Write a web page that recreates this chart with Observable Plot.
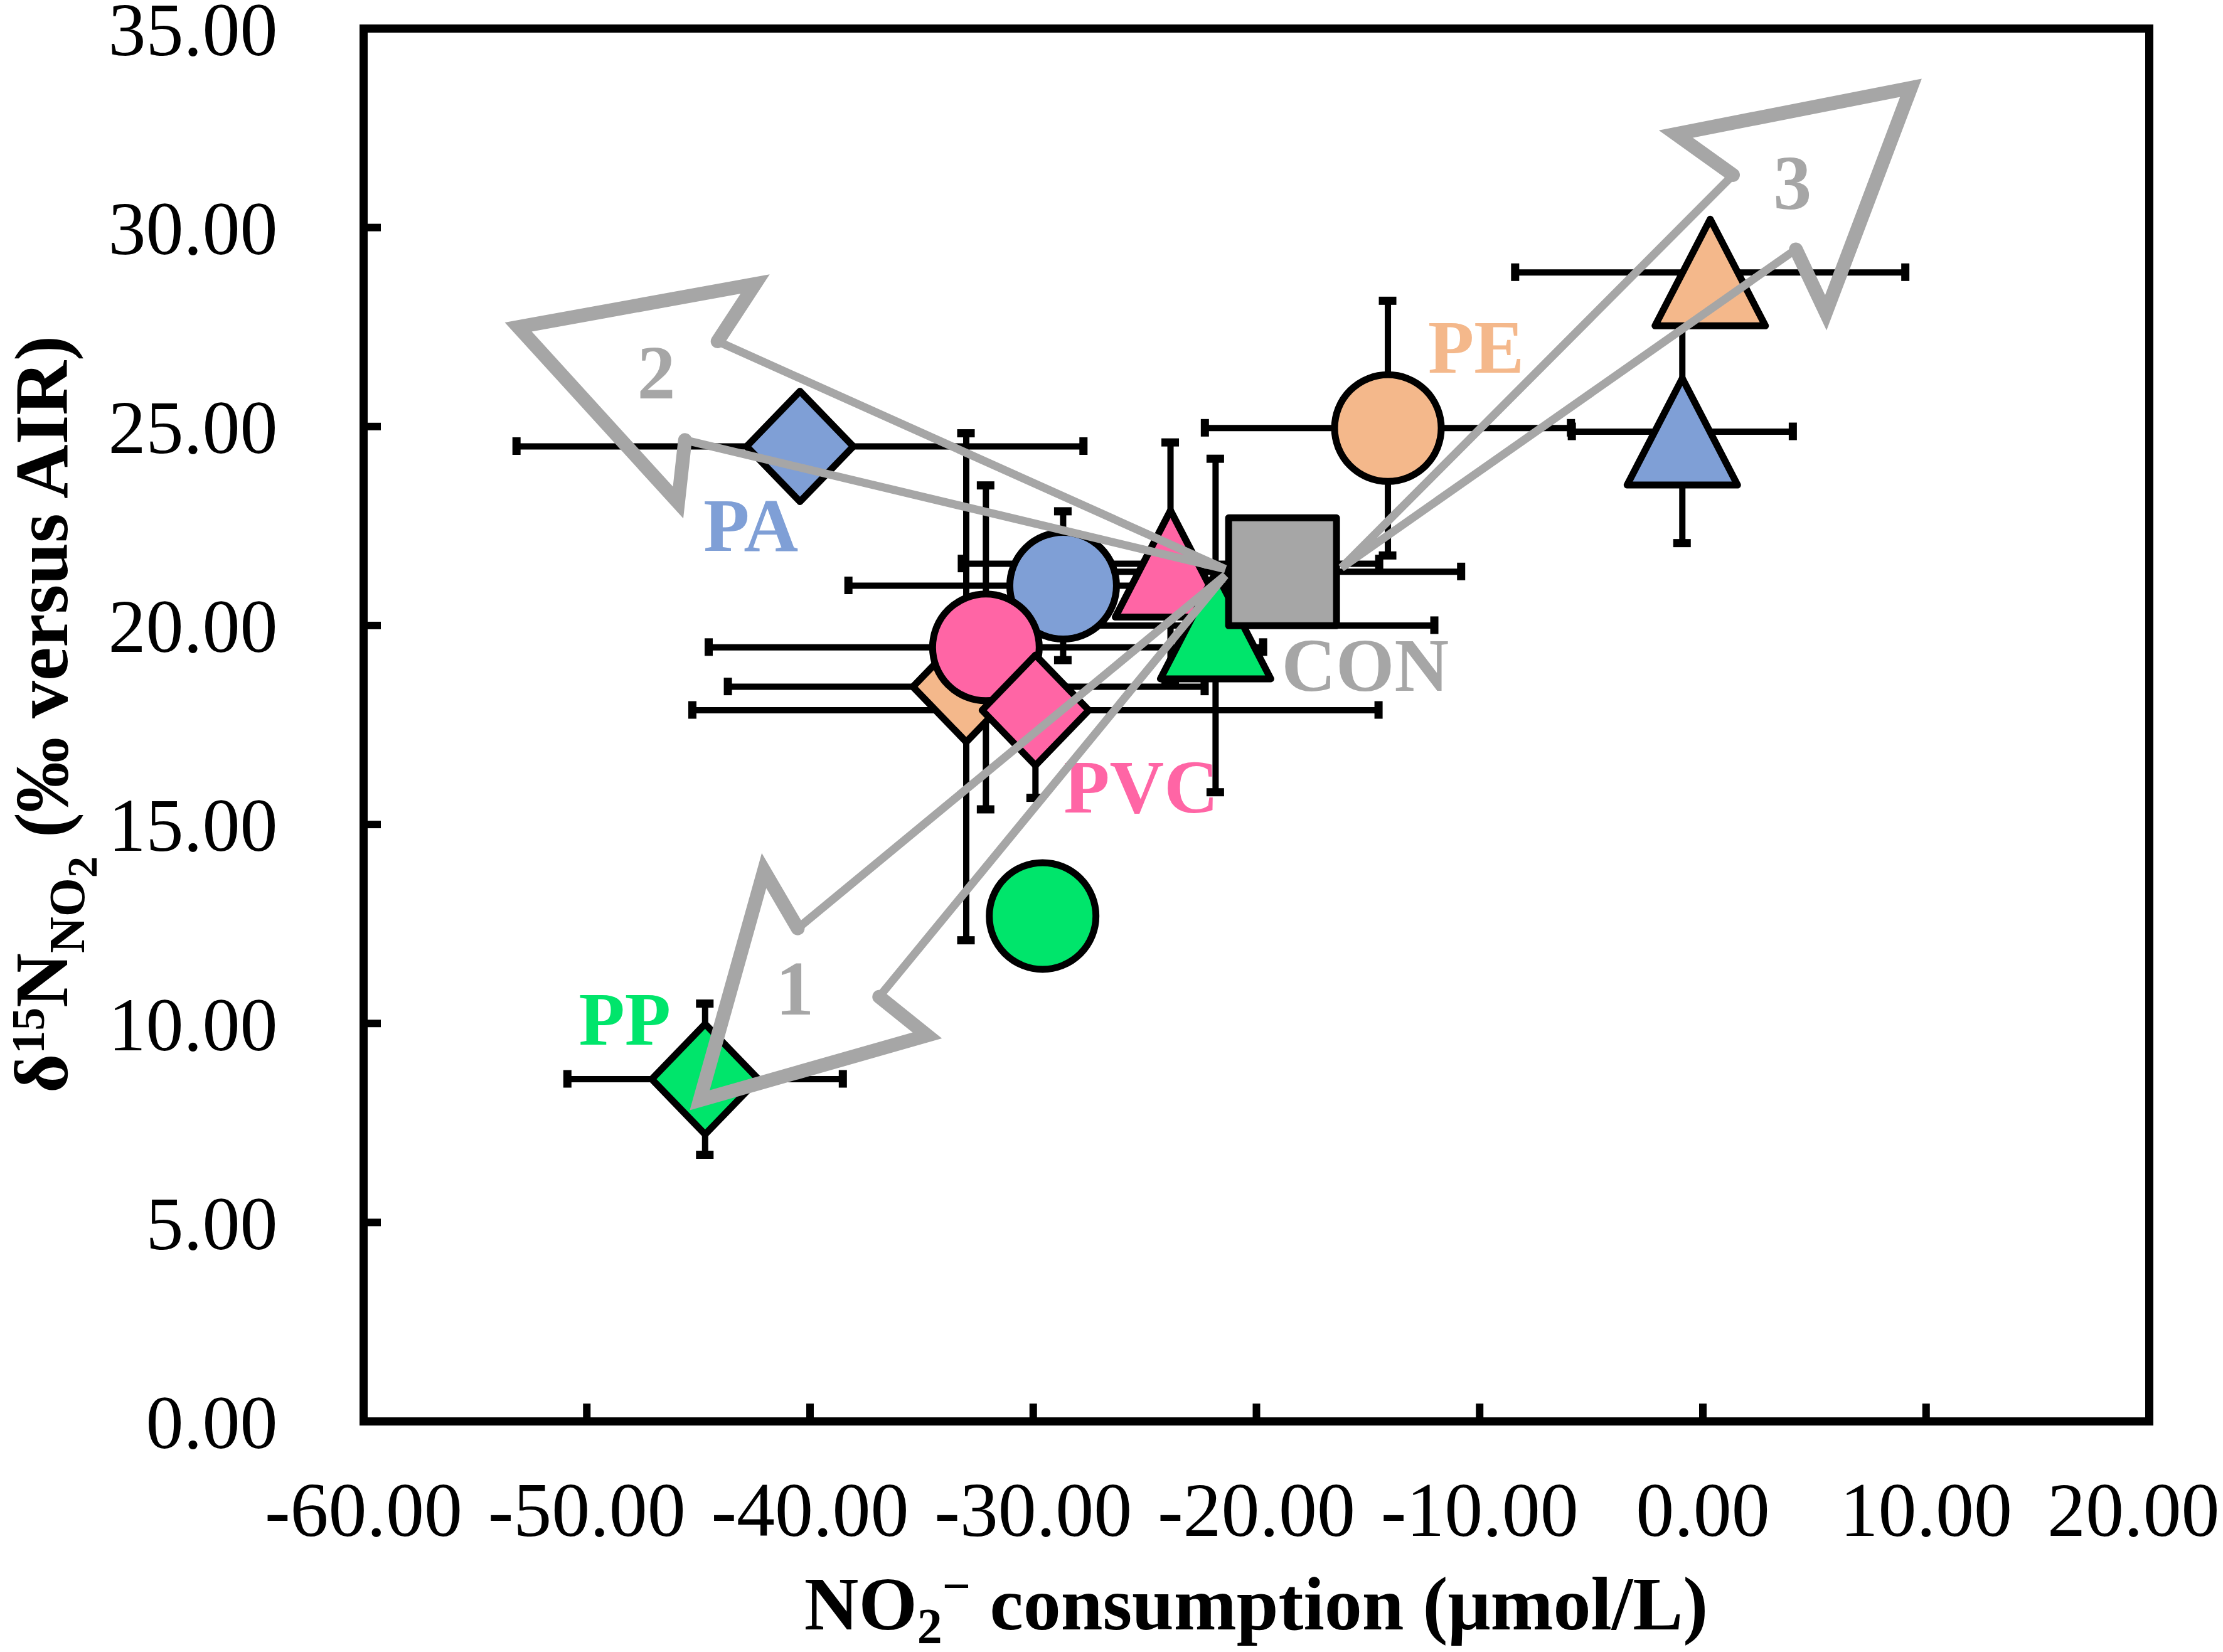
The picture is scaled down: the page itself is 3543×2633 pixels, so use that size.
<!DOCTYPE html>
<html>
<head>
<meta charset="utf-8">
<script src="https://cdn.jsdelivr.net/npm/d3@7"></script>
<script src="https://cdn.jsdelivr.net/npm/@observablehq/plot@0.6"></script>
<style>
  html, body { margin: 0; padding: 0; background: #ffffff; }
  svg { display: block; }
</style>
</head>
<body>
<div id="chart"></div>
<script>
// ---------------- data ----------------
const polymer       = ["CON", "PA", "PA", "PA", "PE", "PE", "PE", "PP", "PP", "PP", "PVC", "PVC", "PVC"];
const shape         = ["square", "diamond", "circle", "triangle", "diamond", "circle", "triangle", "diamond", "circle", "triangle", "diamond", "circle", "triangle"];
const consumption   = [-18.83, -40.45, -28.66, -0.92, -33.00, -14.11, 0.33, -44.70, -29.58, -21.83, -29.90, -32.12, -23.85];
const consumptionSD = [8.00, 12.70, 9.62, 4.95, 10.68, 8.20, 8.74, 6.17, 0, 9.80, 15.37, 12.42, 9.35];
const delta15N      = [21.35, 24.50, 21.00, 24.87, 18.46, 24.96, 28.87, 8.60, 12.70, 20.00, 17.87, 19.45, 21.55];
const delta15NSD    = [0, 0, 1.87, 2.80, 6.37, 3.20, 0, 1.90, 0, 4.19, 2.20, 4.07, 3.05];
// painting order of the markers (index into the arrays above)
const drawOrder     = [8, 7, 1, 4, 2, 11, 10, 5, 12, 9, 0, 3, 6];

const polymerNames  = ["CON", "PA", "PE", "PP", "PVC"];
const polymerColors = ["#a6a6a6", "#7f9fd6", "#f4b88b", "#00e56b", "#ff65a5"];

// group labels
const labelText = ["PA", "PE", "PP", "PVC", "CON"];
const labelX    = [-42.65, -10.16, -48.30, -25.17, -15.13];
const labelY    = [21.88, 26.36, 9.47, 15.30, 18.36];

// trend arrows: vertices = tail, notch A, barb A, tip, barb B, notch B
const arrowName = ["1", "2", "3"];
const arrowX = [
  [-21.40, -40.55, -42.06, -44.94, -34.75, -36.90],
  [-21.40, -44.14, -42.46, -53.07, -45.91, -45.60],
  [-16.19,   1.35,  -1.21,   9.32,   5.51,   4.17]
];
const arrowY = [
  [21.26, 12.39, 13.84,  8.07,  9.70, 10.67],
  [21.42, 27.14, 28.58, 27.50, 23.09, 24.66],
  [21.45, 31.32, 32.35, 33.51, 27.86, 29.45]
];
const arrowLabelX = [-40.68, -46.89, 4.01];
const arrowLabelY = [10.23, 25.70, 30.47];

const xTicks = [-60, -50, -40, -30, -20, -10, 0, 10, 20];
const yTicks = [0, 5, 10, 15, 20, 25, 30, 35];

// ---------------- layout ----------------
const W = 3543, H = 2633;
const ML = 579, MR = 118, MT = 45, MB = 368;
const PW = W - ML - MR, PH = H - MT - MB;
const FONT = "'Liberation Serif', 'Times New Roman', serif";
const GREY = "#a6a6a6";
const colorOf = p => polymerColors[polymerNames.indexOf(p)];

const pts = polymer.map((p, i) => ({
  i, polymer: p, shape: shape[i],
  x: consumption[i], y: delta15N[i], xe: consumptionSD[i], ye: delta15NSD[i]
}));
const hBars = pts.filter(d => d.xe > 0);
const vBars = pts.filter(d => d.ye > 0);
const hCaps = hBars.flatMap(d => [{x: d.x - d.xe, y: d.y}, {x: d.x + d.xe, y: d.y}]);
const vCaps = vBars.flatMap(d => [{x: d.x, y: d.y - d.ye}, {x: d.x, y: d.y + d.ye}]);

const symbols = {
  circle:   {draw(c) { const r = 85; c.moveTo(r, 0); c.arc(0, 0, r, 0, 2 * Math.PI); c.closePath(); }},
  square:   {draw(c) { const h = 86; c.moveTo(-h, -h); c.lineTo(h, -h); c.lineTo(h, h); c.lineTo(-h, h); c.closePath(); }},
  diamond:  {draw(c) { const w = 85, h = 88; c.moveTo(0, -h); c.lineTo(w, 0); c.lineTo(0, h); c.lineTo(-w, 0); c.closePath(); }},
  triangle: {draw(c) { const w = 88, h = 85; c.moveTo(0, -h); c.lineTo(w, h); c.lineTo(-w, h); c.closePath(); }}
};

const heads = [], shafts = [];
arrowName.forEach((n, a) => {
  [1, 2, 3, 4, 5].forEach(k => heads.push({id: n, x: arrowX[a][k], y: arrowY[a][k]}));
  [1, 0, 5].forEach(k => shafts.push({id: n, x: arrowX[a][k], y: arrowY[a][k]}));
});
const arrowLabels = arrowName.map((n, a) => ({text: n, x: arrowLabelX[a], y: arrowLabelY[a]}));

const fmt = d => d.toFixed(2);
const xTicksInner = xTicks.slice(0, -1);
const xTickLast = xTicks.slice(-1);

const marks = [
  // inward ticks
  Plot.tickX(xTicks, {x: d => d, insetTop: PH - 28, stroke: "black", strokeWidth: 12}),
  Plot.tickY(yTicks, {y: d => d, insetRight: PW - 28, stroke: "black", strokeWidth: 12}),
  Plot.axisX(xTicksInner, {anchor: "bottom", tickSize: 0, tickPadding: 96, tickFormat: fmt, fontSize: 122, label: null, fill: "black"}),
  Plot.text(xTickLast, {x: d => d, text: fmt, frameAnchor: "bottom", lineAnchor: "top", textAnchor: "end", dx: 112, dy: 96, fontSize: 122, fill: "black"}),
  Plot.axisY(yTicks, {anchor: "left", tickSize: 0, tickPadding: 137, tickFormat: fmt, fontSize: 120, dy: 4, label: null, fill: "black"}),
  // error bars
  Plot.ruleY(hBars, {y: "y", x1: d => d.x - d.xe, x2: d => d.x + d.xe, stroke: "black", strokeWidth: 10}),
  Plot.ruleX(vBars, {x: "x", y1: d => d.y - d.ye, y2: d => d.y + d.ye, stroke: "black", strokeWidth: 10}),
  Plot.ruleX(hCaps, {x: "x", y1: "y", y2: "y", insetTop: -14, insetBottom: -14, stroke: "black", strokeWidth: 13}),
  Plot.ruleY(vCaps, {y: "y", x1: "x", x2: "x", insetLeft: -14, insetRight: -14, stroke: "black", strokeWidth: 13}),
  // markers
  ...drawOrder.map(i => Plot.dot([pts[i]], {
    x: "x", y: "y", symbol: symbols[pts[i].shape],
    fill: colorOf(pts[i].polymer), stroke: "black", strokeWidth: 11, strokeLinejoin: "round"
  })),
  // group labels
  ...labelText.map((t, k) => Plot.text([{t, x: labelX[k], y: labelY[k]}], {
    x: "x", y: "y", text: "t", fill: colorOf(t), fontWeight: "bold", fontSize: 120,
    textAnchor: "middle", lineAnchor: "bottom"
  })),
  // arrows
  Plot.line(shafts, {x: "x", y: "y", z: "id", stroke: GREY, strokeWidth: 13, strokeLinejoin: "miter", strokeMiterlimit: 10, strokeLinecap: "round"}),
  Plot.line(heads, {x: "x", y: "y", z: "id", stroke: GREY, strokeWidth: 22, strokeLinejoin: "miter", strokeMiterlimit: 10, strokeLinecap: "round"}),
  Plot.text(arrowLabels, {x: "x", y: "y", text: "text", fill: GREY, fontWeight: "bold", fontSize: 122, textAnchor: "middle", lineAnchor: "bottom"}),
  Plot.frame({stroke: "black", strokeWidth: 13})
];

const svgEl = Plot.plot({
  width: W, height: H,
  marginLeft: ML, marginRight: MR, marginTop: MT, marginBottom: MB,
  x: {domain: [-60, 20]},
  y: {domain: [0, 35]},
  style: {fontFamily: FONT, fontSize: "120px", background: "#ffffff", color: "black", overflow: "visible"},
  marks
});

// axis titles with sub/superscripts
const svg = d3.select(svgEl);
const xt = svg.append("text")
  .attr("x", ML + PW / 2).attr("y", 2597)
  .attr("text-anchor", "middle")
  .attr("font-family", FONT).attr("font-weight", "bold").attr("font-size", 120).attr("fill", "black");
xt.append("tspan").text("NO");
xt.append("tspan").attr("dy", 22).attr("font-size", 80).text("2");
xt.append("tspan").attr("dy", -64).attr("font-size", 80).text("\u2212");
xt.append("tspan").attr("dy", 42).text(" consumption (\u03BCmol/L)");

const yt = svg.append("text")
  .attr("transform", "translate(107,1742) rotate(-90)")
  .attr("text-anchor", "start")
  .attr("font-family", FONT).attr("font-weight", "bold").attr("font-size", 120).attr("fill", "black");
yt.append("tspan").text("\u03B4");
yt.append("tspan").attr("dy", -37).attr("font-size", 74).text("15");
yt.append("tspan").attr("dy", 37).text("N");
yt.append("tspan").attr("dy", 27).attr("font-size", 80).text("NO");
yt.append("tspan").attr("dy", 20).attr("font-size", 68).text("2");
yt.append("tspan").attr("dy", -47).text(" (\u2030 versus AIR)");

document.getElementById("chart").appendChild(svgEl);
</script>
</body>
</html>
